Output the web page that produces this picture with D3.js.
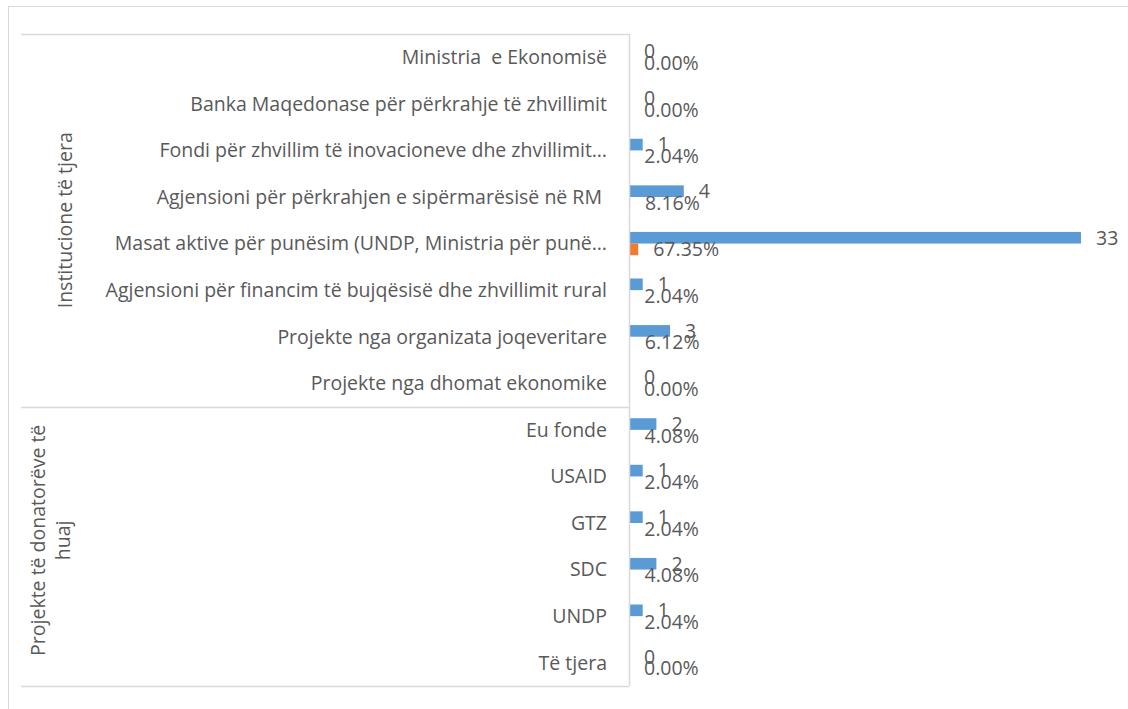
<!DOCTYPE html>
<html>
<head>
<meta charset="utf-8">
<script src="https://cdn.jsdelivr.net/npm/d3@7"></script>
<style>
  html, body { margin: 0; padding: 0; background: #fff; }
  svg { display: block; }
  text { font-family: "Open Sans", sans-serif; fill: #595959; white-space: pre; }
</style>
</head>
<body>
<svg id="chart" width="1128" height="709"></svg>
<script>
const categories = [
  "Ministria  e Ekonomisë",
  "Banka Maqedonase për përkrahje të zhvillimit",
  "Fondi për zhvillim të inovacioneve dhe zhvillimit…",
  "Agjensioni për përkrahjen e sipërmarësisë në RM ",
  "Masat aktive për punësim (UNDP, Ministria për punë…",
  "Agjensioni për financim të bujqësisë dhe zhvillimit rural",
  "Projekte nga organizata joqeveritare",
  "Projekte nga dhomat ekonomike",
  "Eu fonde",
  "USAID",
  "GTZ",
  "SDC",
  "UNDP",
  "Të tjera"
];
const counts = [0, 0, 1, 4, 33, 1, 3, 0, 2, 1, 1, 2, 1, 0];
const shares = [0, 0, 0.0204, 0.0816, 0.6735, 0.0204, 0.0612, 0, 0.0408, 0.0204, 0.0204, 0.0408, 0.0204, 0];
const groupNames = [["Institucione të tjera"], ["Projekte të donatorëve të", "huaj"]];
const groupSizes = [8, 6];
const seriesNames = ["count", "share"];
const colors = ["#5b9bd5", "#ed7d31"];

(function () {
const svg = d3.select("#chart");
const fontSize = 19.5;
const lineColor = "#d9d9d9";

// outer border
svg.append("rect").attr("x", 8.5).attr("y", 6.5).attr("width", 1200).attr("height", 800)
  .attr("fill", "none").attr("stroke", lineColor).attr("stroke-width", 1);

const plotTop = 34, plotBottom = 686, axisX = 629, groupLeft = 21;

const y = d3.scaleBand().domain(d3.range(categories.length)).range([plotTop, plotBottom])
  .paddingInner(0.5).paddingOuter(0.25);
const ySub = d3.scaleBand().domain(seriesNames).range([0, y.bandwidth()]);
const x = d3.scaleLinear().domain([0, 33]).range([axisX, 1081]);

const rows = categories.map((c, i) => ({ c, i, vals: [counts[i], shares[i]] }));

// bars
const g = svg.append("g");
rows.forEach(r => {
  seriesNames.forEach((s, k) => {
    const v = r.vals[k];
    if (v > 0) {
      g.append("rect")
        .attr("x", x(0))
        .attr("y", y(r.i) + ySub(s))
        .attr("width", x(v) - x(0))
        .attr("height", ySub.bandwidth())
        .attr("fill", colors[k]);
    }
  });
});

// data labels
rows.forEach(r => {
  svg.append("text")
    .attr("x", x(r.vals[0]) + 15)
    .attr("y", y(r.i) + ySub("count") + ySub.bandwidth() / 2)
    .attr("dy", "0.35em")
    .attr("font-size", fontSize)
    .text(d3.format("d")(r.vals[0]));
  svg.append("text")
    .attr("x", x(r.vals[1]) + 15)
    .attr("y", y(r.i) + ySub("share") + ySub.bandwidth() / 2)
    .attr("dy", "0.35em")
    .attr("font-size", fontSize)
    .text(d3.format(".2%")(r.vals[1]));
});

// category labels
rows.forEach(r => {
  svg.append("text")
    .attr("x", axisX - 22)
    .attr("y", y(r.i) + y.bandwidth() / 2)
    .attr("dy", "0.35em")
    .attr("text-anchor", "end")
    .attr("font-size", fontSize)
    .text(r.c);
});

// axis lines
const step = y.step();
let idx = 0;
const bounds = [plotTop];
groupSizes.forEach(n => { idx += n; bounds.push(plotTop + idx * step); });
bounds.forEach(b => {
  svg.append("line").attr("x1", groupLeft).attr("x2", axisX)
    .attr("y1", Math.round(b) + 0.5).attr("y2", Math.round(b) + 0.5)
    .attr("stroke", lineColor).attr("stroke-width", 1.5);
});
svg.append("line").attr("x1", axisX + 0.5).attr("x2", axisX + 0.5)
  .attr("y1", plotTop).attr("y2", plotBottom)
  .attr("stroke", lineColor).attr("stroke-width", 1.5);

// group labels
const groupCenters = [65, 51];
const groupYOffsets = [0, -6];
groupNames.forEach((lines, gi) => {
  const cy = (bounds[gi] + bounds[gi + 1]) / 2 + groupYOffsets[gi];
  const lh = 25;
  const cx = groupCenters[gi];
  const t = svg.append("text")
    .attr("transform", `translate(${cx},${cy}) rotate(-90)`)
    .attr("text-anchor", "middle")
    .attr("font-size", fontSize);
  lines.forEach((ln, li) => {
    t.append("tspan")
      .attr("x", 0)
      .attr("y", (li - (lines.length - 1) / 2) * lh)
      .attr("dy", "0.35em")
      .text(ln);
  });
});
})();
</script>
</body>
</html>
